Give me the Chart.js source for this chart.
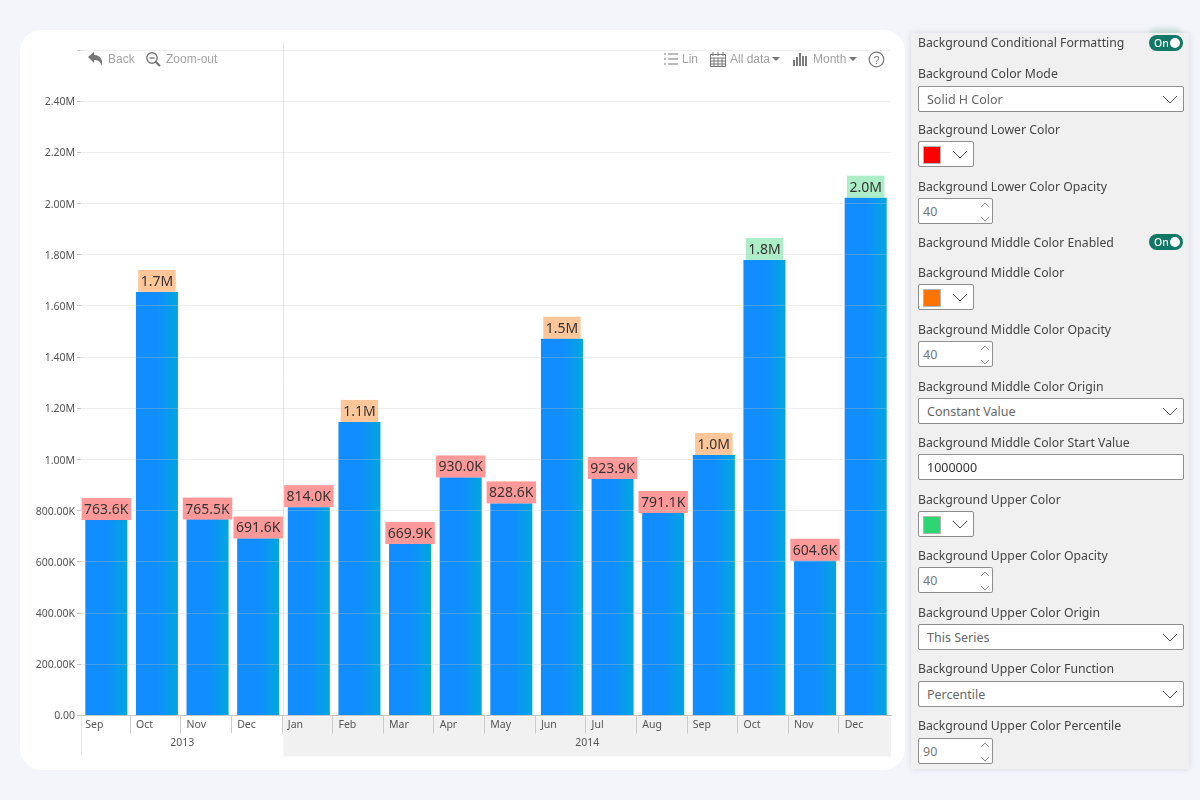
<!DOCTYPE html>
<html>
<head>
<meta charset="utf-8">
<title>Background Conditional Formatting</title>
<script src="https://cdn.jsdelivr.net/npm/chart.js"></script>
<style>
  html, body { margin: 0; width: 1200px; height: 800px; overflow: hidden; background: #f3f5fa; font-family: "Noto Sans", sans-serif; }
  #card { position: absolute; left: 20px; top: 30px; width: 885px; height: 740px; background: #fff; border-radius: 22px; }
  #chart { position: absolute; left: 0; top: 0; }
  .tool { position: absolute; top: 52px; font: 12px "Liberation Sans", sans-serif; color: #a3a3a3; white-space: nowrap; line-height: 14px; }
  .icon { position: absolute; }
  #glow { position: absolute; left: 1150px; top: 28px; width: 30px; height: 8px; background: #cfe3de; filter: blur(2px); border-radius: 4px; }
  #panel { position: absolute; left: 911px; top: 33px; width: 278px; height: 736px; background: #f0f0f0; box-shadow: 0 0 6px rgba(0,0,0,.12); }
  #panel .lbl { position: absolute; left: 7px; font-size: 12.25px; line-height: 18px; color: #444; white-space: nowrap; }
  .sel, .num, .txt, .clr { position: absolute; left: 7px; box-sizing: border-box; background: #fff; border: 1px solid #8f8f8f; border-radius: 2px; font-size: 12.5px; color: #666; }
  .sel { width: 266px; height: 26px; line-height: 26px; padding-left: 8px; }
  .txt { width: 266px; height: 26px; line-height: 26px; padding-left: 8px; color: #333; }
  .num { width: 75px; height: 26px; line-height: 26px; padding-left: 4px; color: #777; }
  .clr { width: 56px; height: 26px; }
  .clr i { position: absolute; left: 4px; top: 4px; width: 16px; height: 16px; border: 1px solid #b5b5b5; }
  .sel svg, .clr svg { position: absolute; right: 5px; top: 8px; }
  .num svg { position: absolute; right: 2px; top: 3px; }
  .toggle { position: absolute; left: 238px; width: 34px; height: 16px; border-radius: 8px; background: #117865; color: #fff; font-size: 10.5px; font-weight: 500; line-height: 16px; text-indent: 5px; }
  .toggle b { position: absolute; right: 3px; top: 3px; width: 10px; height: 10px; border-radius: 50%; background: #fff; }
</style>
</head>
<body>
<div id="card"><canvas id="chart" width="885" height="740"></canvas></div>

<!-- toolbar -->
<svg class="icon" style="left:87px;top:51px" width="18" height="16" viewBox="0 0 18 16"><path d="M1 6 L7 1 V4 C13 4 16 8 15 15 C13 10 11 9 7 9 V12 Z" fill="#777"/></svg>
<div class="tool" style="left:108px">Back</div>
<svg class="icon" style="left:145px;top:51px" width="17" height="16" viewBox="0 0 17 16"><circle cx="7" cy="7" r="5.2" fill="none" stroke="#777" stroke-width="1.4"/><path d="M4.5 7 H9.5" stroke="#777" stroke-width="1.4"/><path d="M10.5 10.5 L15 15" stroke="#777" stroke-width="2.2"/></svg>
<div class="tool" style="left:166px">Zoom-out</div>
<svg class="icon" style="left:664px;top:52px" width="14" height="14" viewBox="0 0 14 14"><path d="M0 2 H2 M4 2 H14 M0 7 H2 M4 7 H14 M0 12 H2 M4 12 H14" stroke="#777" stroke-width="1.2"/></svg>
<div class="tool" style="left:682px">Lin</div>
<svg class="icon" style="left:710px;top:51px" width="16" height="16" viewBox="0 0 16 16"><path d="M.5 3.5 H15.5 V15.5 H.5 Z" fill="none" stroke="#777"/><path d="M3 1 V5 M8 1 V5 M13 1 V5 M1 7 H15 M1 10 H15 M1 13 H15 M4 7 V15 M8 7 V15 M12 7 V15" stroke="#777"/></svg>
<div class="tool" style="left:730px">All data</div>
<svg class="icon" style="left:772px;top:57px" width="8" height="4"><path d="M0 0 H8 L4 4 Z" fill="#777"/></svg>
<svg class="icon" style="left:793px;top:52px" width="14" height="14" viewBox="0 0 14 14"><path d="M1 8 V14 M4 5 V14 M7 1 V14 M10 4 V14 M13 4 V14" stroke="#666" stroke-width="1.7"/></svg>
<div class="tool" style="left:813px">Month</div>
<svg class="icon" style="left:849px;top:57px" width="8" height="4"><path d="M0 0 H8 L4 4 Z" fill="#777"/></svg>
<svg class="icon" style="left:868px;top:51px" width="17" height="17" viewBox="0 0 17 17"><circle cx="8.5" cy="8.5" r="7.3" fill="none" stroke="#777" stroke-width="1.2"/><text x="8.5" y="12.5" font-size="11" text-anchor="middle" fill="#777" font-family="Liberation Sans">?</text></svg>

<!-- settings panel -->
<div id="glow"></div>
<div id="panel">
  <div class="lbl" style="top:1px">Background Conditional Formatting</div>
  <div class="toggle" style="top:2px">On<b></b></div>
  <div class="lbl" style="top:32px">Background Color Mode</div>
  <div class="sel" style="top:53px">Solid H Color<svg width="16" height="9"><path d="M1 1 L8 8 L15 1" fill="none" stroke="#555"/></svg></div>
  <div class="lbl" style="top:88px">Background Lower Color</div>
  <div class="clr" style="top:108px"><i style="background:#ff0000"></i><svg width="16" height="9"><path d="M1 1 L8 8 L15 1" fill="none" stroke="#555"/></svg></div>
  <div class="lbl" style="top:145px">Background Lower Color Opacity</div>
  <div class="num" style="top:165px">40<svg width="10" height="20"><path d="M1 5 L5 1 L9 5 M1 15 L5 19 L9 15" fill="none" stroke="#999"/></svg></div>
  <div class="lbl" style="top:201px">Background Middle Color Enabled</div>
  <div class="toggle" style="top:201px">On<b></b></div>
  <div class="lbl" style="top:231px">Background Middle Color</div>
  <div class="clr" style="top:251px"><i style="background:#ff7300"></i><svg width="16" height="9"><path d="M1 1 L8 8 L15 1" fill="none" stroke="#555"/></svg></div>
  <div class="lbl" style="top:288px">Background Middle Color Opacity</div>
  <div class="num" style="top:308px">40<svg width="10" height="20"><path d="M1 5 L5 1 L9 5 M1 15 L5 19 L9 15" fill="none" stroke="#999"/></svg></div>
  <div class="lbl" style="top:345px">Background Middle Color Origin</div>
  <div class="sel" style="top:365px">Constant Value<svg width="16" height="9"><path d="M1 1 L8 8 L15 1" fill="none" stroke="#555"/></svg></div>
  <div class="lbl" style="top:401px">Background Middle Color Start Value</div>
  <div class="txt" style="top:421px">1000000</div>
  <div class="lbl" style="top:458px">Background Upper Color</div>
  <div class="clr" style="top:478px"><i style="background:#2ed573"></i><svg width="16" height="9"><path d="M1 1 L8 8 L15 1" fill="none" stroke="#555"/></svg></div>
  <div class="lbl" style="top:514px">Background Upper Color Opacity</div>
  <div class="num" style="top:534px">40<svg width="10" height="20"><path d="M1 5 L5 1 L9 5 M1 15 L5 19 L9 15" fill="none" stroke="#999"/></svg></div>
  <div class="lbl" style="top:571px">Background Upper Color Origin</div>
  <div class="sel" style="top:591px">This Series<svg width="16" height="9"><path d="M1 1 L8 8 L15 1" fill="none" stroke="#555"/></svg></div>
  <div class="lbl" style="top:627px">Background Upper Color Function</div>
  <div class="sel" style="top:648px">Percentile<svg width="16" height="9"><path d="M1 1 L8 8 L15 1" fill="none" stroke="#555"/></svg></div>
  <div class="lbl" style="top:684px">Background Upper Color Percentile</div>
  <div class="num" style="top:705px">90<svg width="10" height="20"><path d="M1 5 L5 1 L9 5 M1 15 L5 19 L9 15" fill="none" stroke="#999"/></svg></div>
</div>

<script>
    var months = ['Sep', 'Oct', 'Nov', 'Dec', 'Jan', 'Feb', 'Mar', 'Apr', 'May', 'Jun', 'Jul', 'Aug', 'Sep', 'Oct', 'Nov', 'Dec'];
    var years = ['2013', '2014'];
    var yearSpans = [4, 12];  // number of months under each year
    var values = [763600, 1655000, 765500, 691600, 814000, 1147000, 669900, 930000, 828600, 1472000, 923900, 791100, 1018000, 1780000, 604600, 2023000];

    var middleStart = 1000000;  // orange from here
    var upperStart = 1700000;   // green above this (90th percentile)

    var lowerColor = 'rgba(255, 0, 0, 0.4)';
    var middleColor = 'rgba(255, 115, 0, 0.4)';
    var upperColor = 'rgba(46, 213, 115, 0.4)';

    function formatValue(v) {
        if (v >= 1000000) return (v / 1000000).toFixed(1) + 'M';
        return (v / 1000).toFixed(1) + 'K';
    }

    function barFill(c) {
        var chart = c.chart;
        if (!chart.chartArea || c.dataIndex === undefined) return '#118dff';
        var xs = chart.scales.x;
        var center = xs.getPixelForValue(c.dataIndex);
        var half = xs.width / months.length * 0.83 / 2;
        var g = chart.ctx.createLinearGradient(center - half, 0, center + half, 0);
        g.addColorStop(0, '#118dff');
        g.addColorStop(0.5, '#118dff');
        g.addColorStop(1, '#01a6de');
        return g;
    }

    // year band, month separators and the line between the years
    var axisDecor = {
        id: 'axisDecor',
        beforeDraw: function(chart) {
            var ctx = chart.ctx, xs = chart.scales.x, area = chart.chartArea;
            var slot = xs.width / months.length;
            var start = 0;
            ctx.save();
            years.forEach(function(year, i) {
                var left = xs.getPixelForValue(start) - slot / 2;
                var right = xs.getPixelForValue(start + yearSpans[i] - 1) + slot / 2;
                if (i === 1) {
                    ctx.fillStyle = '#f1f1f1';
                    ctx.fillRect(left, area.bottom + 1, right - left, 40);
                }
                ctx.strokeStyle = '#e6e6e6';
                ctx.beginPath();
                ctx.moveTo(Math.floor(left) + 0.5, i === 0 ? area.bottom : area.top - 8);
                ctx.lineTo(Math.floor(left) + 0.5, i === 0 ? area.bottom + 40 : area.bottom);
                ctx.stroke();
                ctx.fillStyle = '#555';
                ctx.font = '10.5px "Noto Sans"';
                ctx.textAlign = 'center';
                ctx.textBaseline = 'middle';
                ctx.fillText(year, (left + right) / 2, area.bottom + 27.5);
                start += yearSpans[i];
            });
            ctx.strokeStyle = '#cccccc';
            for (var i = 1; i < months.length; i++) {
                var x = Math.round(xs.getPixelForValue(i) - slot / 2 - 2) + 0.5;
                ctx.beginPath();
                ctx.moveTo(x, area.bottom);
                ctx.lineTo(x, area.bottom + 18);
                ctx.stroke();
            }
            ctx.restore();
        }
    };

    // value labels with the conditional background
    var valueBoxes = {
        id: 'valueBoxes',
        afterDatasetsDraw: function(chart) {
            var ctx = chart.ctx;
            ctx.save();
            ctx.font = '14px "Noto Sans"';
            ctx.textAlign = 'center';
            ctx.textBaseline = 'middle';
            chart.getDatasetMeta(0).data.forEach(function(bar, i) {
                var text = formatValue(values[i]);
                var w = ctx.measureText(text).width + 5;
                ctx.fillStyle = values[i] > upperStart ? upperColor : values[i] >= middleStart ? middleColor : lowerColor;
                ctx.fillRect(bar.x - w / 2, bar.y - 22, w, 22);
                ctx.fillStyle = '#333';
                ctx.fillText(text, bar.x, bar.y - 10);
            });
            ctx.restore();
        }
    };

    var ctx = document.getElementById('chart').getContext('2d');
    var chart = new Chart(ctx, {
        type: 'bar',
        data: {
            labels: months,
            datasets: [{
                data: values,
                backgroundColor: barFill,
                barPercentage: 0.83,
                categoryPercentage: 1
            }]
        },
        plugins: [axisDecor, valueBoxes],
        options: {
            responsive: false,
            animation: false,
            layout: { padding: { top: 20, right: 14, bottom: 14.5, left: 0 } },
            plugins: { legend: { display: false }, tooltip: { enabled: false } },
            scales: {
                x: {
                    afterFit: function(s) { s.height = 40; },
                    grid: { display: false, drawTicks: false },
                    border: { color: '#c4c4c4' },
                    ticks: {
                        autoSkip: false,
                        maxRotation: 0,
                        align: 'start',
                        labelOffset: -21,
                        padding: 3,
                        color: '#555',
                        font: { family: '"Noto Sans"', size: 10.5 }
                    }
                },
                y: {
                    min: 0,
                    max: 2600000,
                    afterFit: function(s) { s.width = 61; },
                    border: { display: false },
                    grid: { color: 'rgba(200, 200, 200, 0.3)', tickColor: '#c4c4c4', tickLength: 4, z: 1 },
                    ticks: {
                        stepSize: 200000,
                        padding: 2,
                        labelOffset: 1,
                        color: '#555',
                        font: { family: '"Noto Sans"', size: 10.5 },
                        callback: function(v) {
                            if (v === 0) return '0.00';
                            if (v > 2400000) return '';
                            if (v >= 1000000) return (v / 1000000).toFixed(2) + 'M';
                            return (v / 1000).toFixed(2) + 'K';
                        }
                    }
                }
            }
        }
    });
</script>
</body>
</html>
